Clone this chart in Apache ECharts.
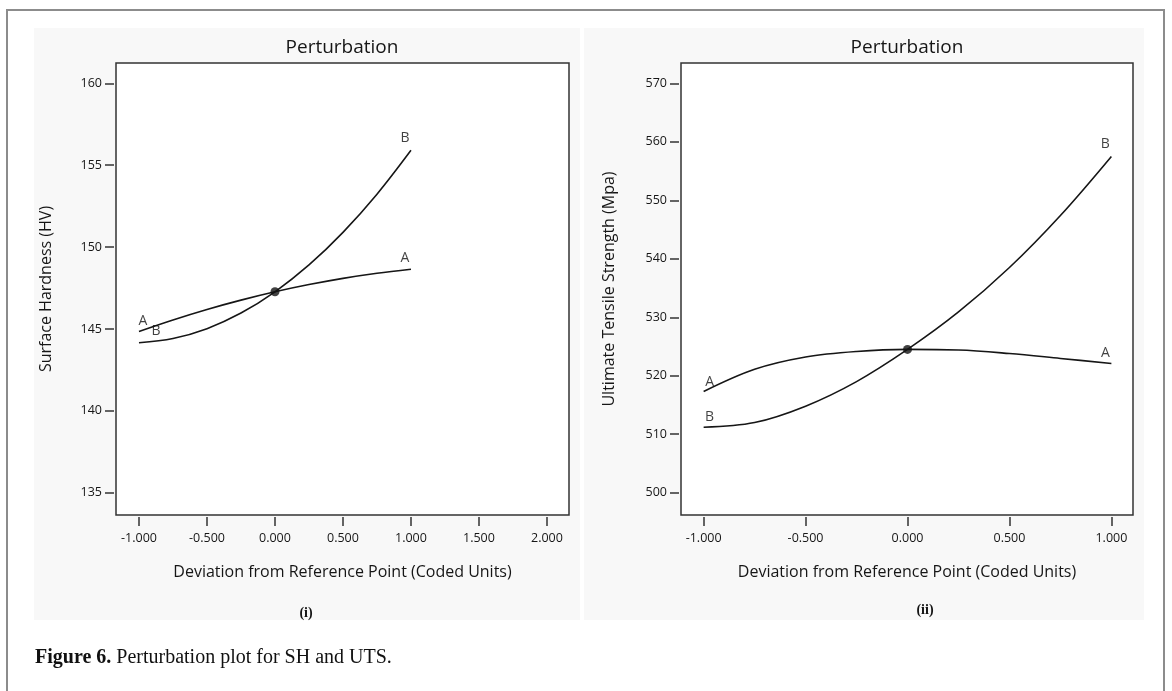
<!DOCTYPE html>
<html><head><meta charset="utf-8">
<script src="https://cdn.jsdelivr.net/npm/echarts@6/dist/echarts.min.js"></script>
<style>html,body{margin:0;padding:0;background:#fff}#c{width:1172px;height:691px}</style>
</head><body><div id="c"></div>
<script>
// ---- data ----
const devX = [-1, -0.75, -0.5, -0.25, 0, 0.25, 0.5, 0.75, 1];
const shA  = [144.85, 145.55, 146.19, 146.76, 147.27, 147.71, 148.09, 148.40, 148.65];
const shB  = [144.16, 144.42, 145.02, 145.97, 147.27, 148.91, 150.90, 153.23, 155.91];
const utsA = [517.3, 521.1, 523.2, 524.15, 524.5, 524.4, 523.8, 522.96, 522.1];
const utsB = [511.2, 512.0, 514.8, 519.0, 524.5, 530.9, 538.5, 547.4, 557.5];
const shXTicks  = [-1, -0.5, 0, 0.5, 1, 1.5, 2];
const utsXTicks = [-1, -0.5, 0, 0.5, 1];
const shYTicks  = [135, 140, 145, 150, 155, 160];
const utsYTicks = [500, 510, 520, 530, 540, 550, 560, 570];
const titleText = 'Perturbation';
const xName = 'Deviation from Reference Point (Coded Units)';
const shYName = 'Surface Hardness (HV)';
const utsYName = 'Ultimate Tensile Strength (Mpa)';
const captionBold = 'Figure 6.';
const captionText = ' Perturbation plot for SH and UTS.';

const FF = '"Open Sans", "Noto Sans", sans-serif';
const INK = '#161616';

function xAxis(gi, min, max, ticks) {
  return {
    gridIndex: gi, type: 'value', min: min, max: max, offset: 2,
    axisLine: { show: false, onZero: false }, splitLine: { show: false },
    axisTick: { show: true, customValues: ticks, length: 9, lineStyle: { color: '#333', width: 1.5 } },
    axisLabel: { customValues: ticks, formatter: v => v.toFixed(3), margin: 15, fontSize: 12.5, color: INK, fontFamily: FF },
    name: xName, nameLocation: 'middle', nameGap: 47,
    nameTextStyle: { fontSize: 16, color: INK, fontFamily: FF }
  };
}
function yAxis(gi, min, max, ticks, name, gap) {
  return {
    gridIndex: gi, type: 'value', min: min, max: max, offset: 2,
    axisLine: { show: false, onZero: false }, splitLine: { show: false },
    axisTick: { show: true, customValues: ticks, length: 9, lineStyle: { color: '#333', width: 1.5 } },
    axisLabel: { customValues: ticks, formatter: v => String(Math.round(v)), margin: 12, fontSize: 12.5, color: INK, fontFamily: FF },
    name: name, nameLocation: 'middle', nameGap: gap,
    nameTextStyle: { fontSize: 16, color: INK, fontFamily: FF }
  };
}
function curve(gi, ys) {
  return {
    type: 'line', xAxisIndex: gi, yAxisIndex: gi, smooth: 0.35, symbol: 'none', silent: true,
    data: devX.map((x, i) => [x, ys[i]]),
    lineStyle: { color: INK, width: 1.6 }, z: 3
  };
}
function tag(x, y, text, off) {
  return { value: [x, y], label: { show: true, formatter: text, position: 'inside', offset: off } };
}
const last = devX.length - 1;
function labels(gi, a, b, offs) {
  return {
    type: 'scatter', xAxisIndex: gi, yAxisIndex: gi, symbolSize: 1, silent: true,
    itemStyle: { color: 'rgba(0,0,0,0)' },
    label: { color: '#111', fontSize: 14, fontFamily: FF },
    data: [
      tag(devX[0], a[0], 'A', offs[0]),
      tag(devX[0], b[0], 'B', offs[1]),
      tag(devX[last], a[last], 'A', offs[2]),
      tag(devX[last], b[last], 'B', offs[3])
    ], z: 4
  };
}
function dot(gi, ys) {
  return { type: 'scatter', xAxisIndex: gi, yAxisIndex: gi, symbolSize: 9, silent: true,
    itemStyle: { color: '#111' }, data: [[0, ys[devX.indexOf(0)]]], z: 5 };
}

const chart = echarts.init(document.getElementById('c'), null, { renderer: 'canvas' });
chart.setOption({
  animation: false,
  backgroundColor: '#fff',
  grid: [
    { left: 116, top: 63, width: 453, height: 452, show: true, borderColor: '#333', borderWidth: 1.5, backgroundColor: '#fff' },
    { left: 681, top: 63, width: 452, height: 452, show: true, borderColor: '#333', borderWidth: 1.5, backgroundColor: '#fff' }
  ],
  xAxis: [ xAxis(0, -1.169, 2.162, shXTicks), xAxis(1, -1.111, 1.106, utsXTicks) ],
  yAxis: [ yAxis(0, 133.64, 161.24, shYTicks, shYName, 60), yAxis(1, 496.19, 573.47, utsYTicks, utsYName, 62) ],
  series: [
    curve(0, shA), curve(0, shB),
    labels(0, shA, shB, [[4, -10], [17, -12], [-6, -11], [-6, -12]]),
    dot(0, shA),
    curve(1, utsA), curve(1, utsB),
    labels(1, utsA, utsB, [[6, -10], [6, -10], [-6, -10], [-6, -12]]),
    dot(1, utsA)
  ],
  graphic: [
    { type: 'rect', z: -10, shape: { x: 34, y: 28, width: 546, height: 592 }, style: { fill: '#f8f8f8' } },
    { type: 'rect', z: -10, shape: { x: 584, y: 28, width: 560, height: 592 }, style: { fill: '#f8f8f8' } },
    { type: 'rect', z: -5, shape: { x: 7, y: 10, width: 1157, height: 720 }, style: { fill: 'none', stroke: '#8c8c8c', lineWidth: 2 } },
    { type: 'text', x: 342, y: 48, style: { text: titleText, font: '19px ' + FF, fill: INK, textAlign: 'center', textVerticalAlign: 'middle' } },
    { type: 'text', x: 907, y: 48, style: { text: titleText, font: '19px ' + FF, fill: INK, textAlign: 'center', textVerticalAlign: 'middle' } },
    { type: 'text', x: 306, y: 613, style: { text: '(i)', font: 'bold 14px "Liberation Serif", serif', fill: INK, textAlign: 'center', textVerticalAlign: 'middle' } },
    { type: 'text', x: 925, y: 610, style: { text: '(ii)', font: 'bold 14px "Liberation Serif", serif', fill: INK, textAlign: 'center', textVerticalAlign: 'middle' } },
    { type: 'text', x: 35, y: 658, style: {
        text: '{b|' + captionBold + '}{r|' + captionText + '}',
        textVerticalAlign: 'middle',
        rich: {
          b: { fontFamily: '"Liberation Serif", serif', fontWeight: 'bold', fontSize: 20, fill: '#111', color: '#111' },
          r: { fontFamily: '"Liberation Serif", serif', fontSize: 20, fill: '#111', color: '#111' }
        } } }
  ]
});
</script></body></html>
